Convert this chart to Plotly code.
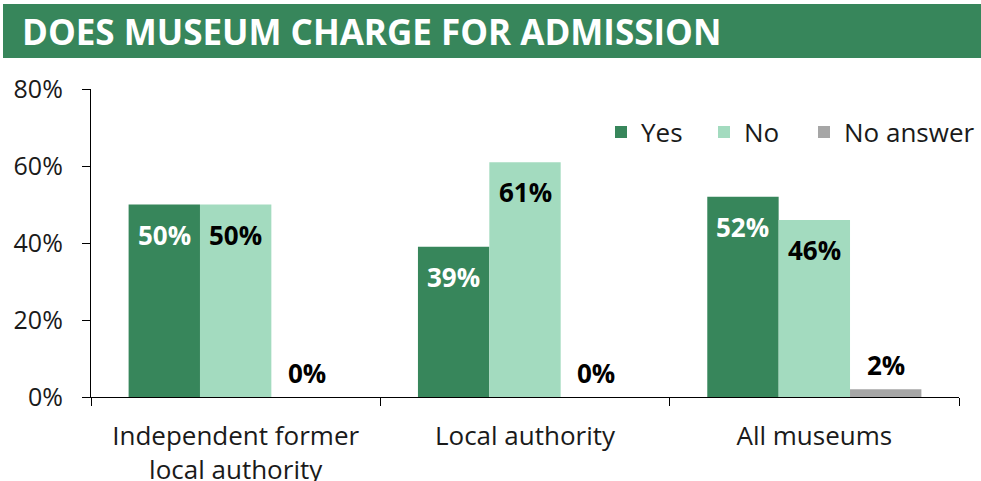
import plotly.graph_objects as go

categories = ["Independent former<br>local authority", "Local authority", "All museums"]
series_names = ["Yes", "No", "No answer"]
yes_vals = [50, 39, 52]
no_vals = [50, 61, 46]
noans_vals = [0, 0, 2]
y_ticks = [0, 20, 40, 60, 80]
y_tick_labels = ["0%", "20%", "40%", "60%", "80%"]
title_text = "DOES MUSEUM CHARGE FOR ADMISSION"

colors = ["#37865B", "#A3DBBF", "#A6A6A6"]
label_colors = ["white", "black", "black"]
label_shift = [-30, -30, 24]
legend_left_px = [601, 704, 804]
FONT = "Open Sans"
FS = 25
FS_BIG = 26

W, H = 981, 481
ml, mr, mt, mb = 91, 22, 89, 84
plot_w = W - ml - mr
plot_h = H - mt - mb
bargap = 0.26
bar_px = plot_w / len(categories) * (1 - bargap) / 3

def px_x(p):
    return (p - ml) / plot_w

def px_y(p):
    return (H - mb - p) / plot_h

fig = go.Figure()
all_vals = [yes_vals, no_vals, noans_vals]
legend_ids = ["legend", "legend2", "legend3"]
for name, vals, col, lid in zip(series_names, all_vals, colors, legend_ids):
    fig.add_trace(go.Bar(x=categories, y=vals, name=name, legend=lid, showlegend=True,
                         marker=dict(color=col, line=dict(width=0))))

annotations = []
for i, vals in enumerate(all_vals):
    for j, v in enumerate(vals):
        annotations.append(dict(
            x=categories[j], y=v, xref="x", yref="y", text=f"<b>{v}%</b>",
            showarrow=False, xshift=(i - 1) * bar_px, yshift=label_shift[i],
            yanchor="middle", font=dict(family=FONT, size=FS_BIG, color=label_colors[i])))

annotations.append(dict(
    x=px_x(20), y=px_y(31), xref="paper", yref="paper", text=f"<b>{title_text}</b>",
    showarrow=False, xanchor="left", yanchor="middle",
    font=dict(family=FONT, size=35, color="white")))

legend_common = dict(orientation="h", xanchor="left", y=px_y(132), yanchor="middle",
                     font=dict(family=FONT, size=FS_BIG, color="#1a1a1a"),
                     bgcolor="rgba(0,0,0,0)")

fig.update_layout(
    width=W, height=H, showlegend=True,
    margin=dict(l=ml, r=mr, t=mt, b=mb, autoexpand=False),
    paper_bgcolor="white", plot_bgcolor="white",
    barmode="group", bargap=bargap, bargroupgap=0,
    font=dict(family=FONT, size=FS, color="#1a1a1a"),
    shapes=[dict(type="rect", xref="paper", yref="paper",
                 x0=px_x(3), x1=px_x(981), y0=px_y(58), y1=px_y(4),
                 fillcolor="#37865B", line=dict(width=0), layer="below")],
    annotations=annotations,
    legend=dict(x=px_x(legend_left_px[0]), **legend_common),
    legend2=dict(x=px_x(legend_left_px[1]), **legend_common),
    legend3=dict(x=px_x(legend_left_px[2]), **legend_common),
    xaxis=dict(showline=True, linecolor="black", linewidth=1.3, ticks="outside",
               tickson="boundaries", ticklen=8, tickcolor="black", showgrid=False,
               ticklabelstandoff=16, automargin=False,
               tickfont=dict(family=FONT, size=FS_BIG, color="#1a1a1a")),
    yaxis=dict(range=[0, 80], tickvals=y_ticks, ticktext=y_tick_labels, showline=True,
               linecolor="black", linewidth=1.3, ticks="outside", ticklen=8,
               tickcolor="black", showgrid=False, zeroline=False, ticklabelstandoff=14,
               automargin=False,
               tickfont=dict(family=FONT, size=FS, color="#1a1a1a")),
)

fig.write_html("out.html", config={"displayModeBar": False},
               post_script="document.body.style.margin='0';document.body.style.overflow='hidden';")
